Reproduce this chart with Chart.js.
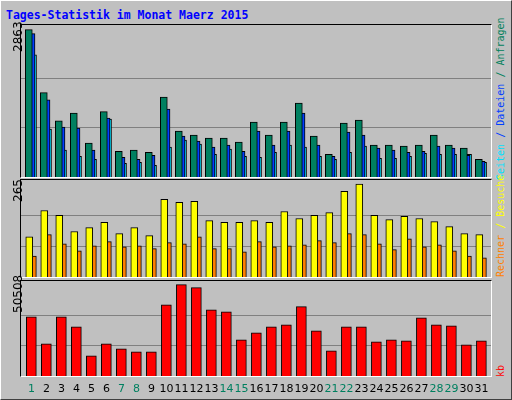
<!DOCTYPE html>
<html><head><meta charset="utf-8">
<script src="https://cdn.jsdelivr.net/npm/chart.js@4/dist/chart.umd.min.js"></script>
<style>
body{margin:0;width:512px;height:400px;background:#c0c0c0;position:relative;overflow:hidden}
#outer{position:absolute;left:0;top:0;width:510px;height:398px;border-left:1px solid #fff;border-top:1px solid #fff;border-right:1px solid #404040;border-bottom:1px solid #404040}
.panel{position:absolute;left:20px;width:470px;border-left:1px solid #000;border-top:1px solid #000;border-right:1px solid #fff;border-bottom:1px solid #fff}
.panel canvas{display:block}
.rot{position:absolute;transform:rotate(-90deg);transform-origin:left top;white-space:nowrap;line-height:14px}
.day{position:absolute;top:382px;width:16px;text-align:center;font:11px "DejaVu Sans",sans-serif}
#title{position:absolute;left:6px;top:8px;font:bold 11.5px "DejaVu Sans Mono",monospace;color:#0000ff}
</style></head><body>
<div id="outer"></div>
<div id="title">Tages-Statistik im Monat Maerz 2015</div>
<div class="panel" style="top:24px;height:152px"><canvas id="c1"></canvas></div>
<div class="panel" style="top:179px;height:97px"><canvas id="c2"></canvas></div>
<div class="panel" style="top:280px;height:95px"><canvas id="c3"></canvas></div>
<div class="rot" style="left:11px;top:52px;font:12px 'DejaVu Sans',sans-serif">2863</div>
<div class="rot" style="left:11px;top:202px;font:12px 'DejaVu Sans',sans-serif">265</div>
<div class="rot" style="left:11px;top:313px;font:12px 'DejaVu Sans',sans-serif">50508</div>
<div class="rot" style="left:495px;top:180px;font:10px 'DejaVu Sans Mono',monospace"><span style="color:#00e0ff">Seiten</span> <span style="color:#0040ff">/</span> <span style="color:#0040ff">Dateien</span> <span style="color:#00805c">/</span> <span style="color:#00805c">Anfragen</span></div>
<div class="rot" style="left:495px;top:277px;font:10px 'DejaVu Sans Mono',monospace"><span style="color:#ff8000">Rechner</span> <span style="color:#ffff00">/</span> <span style="color:#ffff00">Besuche</span></div>
<div class="rot" style="left:495px;top:377px;font:10px 'DejaVu Sans Mono',monospace;color:#ff0000">kb</div>
<div id="days"></div>
<script>
const days = Array.from({length:31},(_,i)=>String(i+1));
const weekend = [1,7,8,14,15,21,22,28,29];
const hits  = [2863,1640,1093,1243,657,1269,501,521,481,1555,891,813,755,755,677,1067,813,1067,1438,794,442,1048,1106,618,618,599,618,813,618,560,345];
const files = [2785,1497,970,950,521,1145,384,345,423,1321,794,696,579,618,501,891,618,891,1243,618,403,872,813,560,521,481,501,599,560,423,306];
const pages = [2375,930,521,403,345,1126,267,286,228,579,716,638,442,540,403,384,481,618,579,403,345,481,599,364,364,403,462,442,442,442,286];
const visits= [115,190,176,130,141,156,124,141,118,222,213,216,161,156,156,161,156,187,167,176,184,245,265,176,164,173,167,158,144,124,121];
const hosts = [60,121,95,75,89,101,86,89,81,98,95,115,81,81,72,101,86,89,92,104,98,124,121,95,78,109,86,92,75,60,55];
const kb    = [32750,17760,32750,27200,11100,17760,14990,13320,13320,39400,50508,48840,36630,35520,19980,23870,27200,28300,38300,24980,13880,27200,27200,18870,19980,19430,32190,28300,27750,17200,19430];
const maxHits=2863, maxVisits=265, maxKb=50508;

const dd=document.getElementById('days');
days.forEach((d,i)=>{const e=document.createElement('div');e.className='day';e.textContent=d;
 e.style.left=(23.5+15*i)+'px';e.style.color=weekend.includes(i+1)?'#008060':'#000';dd.appendChild(e);});

function ds(vals,off,color,w){return {data:vals.map((v,i)=>({x:i+off,y:v})),backgroundColor:color,borderColor:'#000',borderWidth:1,barThickness:w,borderSkipped:'bottom',grouped:false};}
function make(id,w,h,sets,max,ymax){
 const c=document.getElementById(id);c.width=w;c.height=h;c.style.width=w+'px';c.style.height=h+'px';
 new Chart(c,{type:'bar',data:{datasets:sets},options:{responsive:false,animation:false,
  layout:{padding:0},plugins:{legend:{display:false},tooltip:{enabled:false}},
  scales:{x:{type:'linear',min:-0.2,max:31.13,offset:false,display:false},
   y:{min:0,max:ymax,display:true,border:{display:false},ticks:{display:false},
      grid:{color:'#808080',drawTicks:false,lineWidth:1},
      afterBuildTicks:s=>{s.ticks=[{value:max/3},{value:max*2/3}];}}}}});
}
make('c1',470,152,[ds(hits,0.32,'#008060',7),ds(files,0.5,'#0040ff',7),ds(pages,0.6,'#00e0ff',7)],maxHits,2953);
make('c2',470,97,[ds(visits,0.35,'#ffff00',7),ds(hosts,0.59,'#ff8000',7)],maxVisits,277);
make('c3',470,95,[ds(kb,0.49,'#ff0000',10)],maxKb,52506);
</script>
</body></html>
